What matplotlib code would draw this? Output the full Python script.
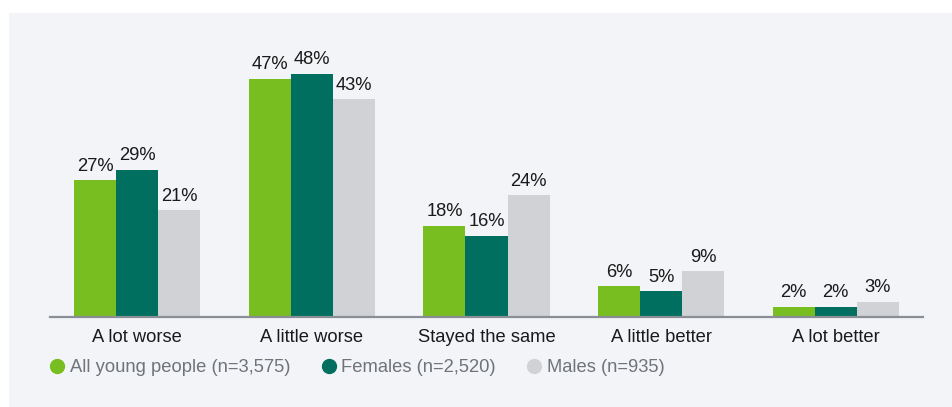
import matplotlib.pyplot as plt
from matplotlib.lines import Line2D
from matplotlib.patches import Rectangle
import numpy as np

# dados
categorias = ['A lot worse', 'A little worse', 'Stayed the same', 'A little better', 'A lot better']
todos = [27, 47, 18, 6, 2]
mulheres = [29, 48, 16, 5, 2]
homens = [21, 43, 24, 9, 3]
series_nomes = ['All young people (n=3,575)', 'Females (n=2,520)', 'Males (n=935)']
cores = ['#78be21', '#006f5f', '#d1d2d6']

plt.rcParams['font.family'] = ['Liberation Sans', 'DejaVu Sans']

W, H = 952, 407
fig = plt.figure(figsize=(W / 100, H / 100), dpi=100)
fig.patch.set_facecolor('white')
# painel cinza claro
fig.patches.append(Rectangle((9 / W, 0), 1 - 9 / W, 1 - 13 / H, transform=fig.transFigure,
                             facecolor='#f3f4f8', edgecolor='none', zorder=-5))

# eixo: x de 50 a 923 px, y da base 316.7 px
y_base = 316.7
y_top = 30
ax = fig.add_axes([50 / W, (H - y_base) / H, (923 - 50) / W, (y_base - y_top) / H])
ax.set_facecolor('none')
ax.set_zorder(2)

x = np.arange(len(categorias))
largura = 0.241
fs = 13.2
for i, (vals, cor) in enumerate(zip([todos, mulheres, homens], cores)):
    pos = x + (i - 1) * largura
    ax.bar(pos, vals, width=largura, color=cor, zorder=2)
    for p, v in zip(pos, vals):
        ax.annotate(f'{v}%', (p, v), xytext=(0, 4), textcoords='offset points',
                    ha='center', va='bottom', fontsize=fs, color='#1a1a1a')

ax.set_xlim(-0.5, 4.5)
ax.set_ylim(0, (y_base - y_top) / 5.06)
ax.set_yticks([])
for s in ['top', 'right', 'left']:
    ax.spines[s].set_visible(False)
ax.spines['bottom'].set_color('#8a8f96')
ax.spines['bottom'].set_linewidth(1.6)
ax.set_xticks(x)
ax.set_xticklabels(categorias, fontsize=fs, color='#1a1a1a')
ax.tick_params(axis='x', length=0, pad=9)

# legenda
handles = [Line2D([], [], marker='o', linestyle='', markersize=10, markerfacecolor=c,
                  markeredgecolor=c) for c in cores]
leg = fig.legend(handles, series_nomes, loc='center left', bbox_to_anchor=(31 / W, 1 - 368 / H),
                 ncol=3, frameon=False, fontsize=fs, handletextpad=0.2, columnspacing=1.6,
                 handlelength=1.0)
leg.set_zorder(3)
for t in leg.get_texts():
    t.set_color('#6f747a')

plt.savefig('out.png', dpi=100)
